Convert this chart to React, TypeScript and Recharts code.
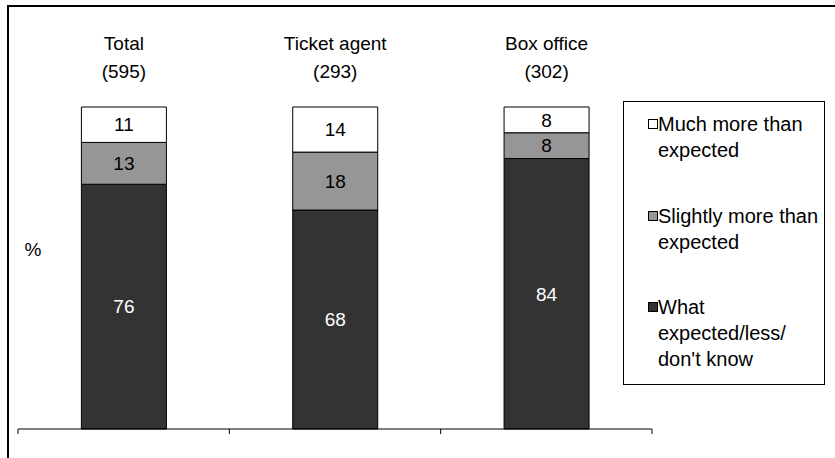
import React from "react";
import {
  BarChart,
  Bar,
  XAxis,
  YAxis,
  Legend,
  LabelList,
} from "recharts";

const CATEGORIES = ["Total", "Ticket agent", "Box office"];
const BASES = [595, 293, 302];
const WHAT_EXPECTED = [76, 68, 84];
const SLIGHTLY_MORE = [13, 18, 8];
const MUCH_MORE = [11, 14, 8];

const SERIES_NAMES = [
  "What expected/less/don't know",
  "Slightly more than expected",
  "Much more than expected",
];
const LEGEND_LINES: Record<string, string[]> = {
  "Much more than expected": ["Much more than", "expected"],
  "Slightly more than expected": ["Slightly more than", "expected"],
  "What expected/less/don't know": ["What", "expected/less/", "don't know"],
};

const COLORS = ["#333333", "#969696", "#FFFFFF"];
const FONT = "'Liberation Sans', Arial, sans-serif";
const FONT_SIZE = 19;

const W = 835;
const H = 458;

const data = CATEGORIES.map((name, i) => ({
  name,
  base: BASES[i],
  what: WHAT_EXPECTED[i],
  slightly: SLIGHTLY_MORE[i],
  much: MUCH_MORE[i],
}));

// tick marks sit between categories, not under them
const BoundaryTick = (props: any) => {
  const { x, y, index, visibleTicksCount, width } = props;
  const count = visibleTicksCount || CATEGORIES.length;
  const band = (width || 634) / count;
  const top = y - 5;
  const left = x - band / 2;
  return (
    <g>
      <line x1={left} x2={left} y1={top} y2={y} stroke="#000" />
      {index === count - 1 && (
        <line x1={x + band / 2} x2={x + band / 2} y1={top} y2={y} stroke="#000" />
      )}
    </g>
  );
};

// category name and base count above each column
const HeaderLabel = (props: any) => {
  const { x, y, width, index } = props;
  const cx = x + width / 2;
  return (
    <g fontFamily={FONT} fontSize={FONT_SIZE} fill="#000" textAnchor="middle">
      <text x={cx} y={y - 57}>
        {CATEGORIES[index]}
      </text>
      <text x={cx} y={y - 29}>
        ({BASES[index]})
      </text>
    </g>
  );
};

const LegendBox = ({ payload }: any) => {
  // top segment first, same as the stacking order seen on the columns
  const items = SERIES_NAMES.map((name) =>
    (payload || []).find((p: any) => p.value === name)
  )
    .filter(Boolean)
    .reverse();
  return (
    <div
      style={{
        width: 202,
        height: 284,
        boxSizing: "border-box",
        border: "1px solid #000",
        background: "#fff",
        display: "flex",
        flexDirection: "column",
        justifyContent: "space-between",
        padding: "9px 0 12px 0",
        fontFamily: FONT,
        fontSize: 20,
        lineHeight: "26px",
        color: "#000",
        textAlign: "left",
      }}
    >
      {items.map((entry: any) => (
        <div key={entry.value} style={{ position: "relative", paddingLeft: 34 }}>
          <span
            style={{
              position: "absolute",
              left: 24,
              top: 8,
              width: 8,
              height: 8,
              border: "1px solid #000",
              background: entry.color,
            }}
          />
          {(LEGEND_LINES[entry.value] || [entry.value]).map((line) => (
            <div key={line}>{line}</div>
          ))}
        </div>
      ))}
    </div>
  );
};

export default function App() {
  return (
    <div
      style={{
        position: "absolute",
        left: 0,
        top: 0,
        width: W,
        height: H,
        background: "#fff",
        overflow: "hidden",
      }}
    >
      <BarChart
        width={W}
        height={H}
        data={data}
        margin={{ top: 107, right: 183, bottom: 0, left: 0 }}
        barCategoryGap="30%"
      >
        <XAxis
          dataKey="name"
          height={29}
          axisLine={{ stroke: "#000" }}
          tickLine={false}
          tickSize={5}
          tickMargin={0}
          tick={<BoundaryTick />}
          interval={0}
        />
        <YAxis
          domain={[0, 100]}
          width={18}
          axisLine={false}
          tickLine={false}
          tick={false}
          label={{
            content: ({ viewBox }: any) => (
              <text
                x={viewBox.x + 33}
                y={256}
                textAnchor="middle"
                fontFamily={FONT}
                fontSize={FONT_SIZE}
                fill="#000"
              >
                %
              </text>
            ),
          }}
        />
        <Legend
          layout="vertical"
          align="center"
          verticalAlign="middle"
          wrapperStyle={{ left: 623, top: 101, width: 202, height: 284 }}
          content={<LegendBox />}
        />
        <Bar
          dataKey="what"
          name={SERIES_NAMES[0]}
          stackId="a"
          fill={COLORS[0]}
          stroke="#000"
          strokeWidth={1}
          isAnimationActive={false}
        >
          <LabelList
            dataKey="what"
            position="center"
            fill="#fff"
            fontFamily={FONT}
            fontSize={FONT_SIZE}
          />
        </Bar>
        <Bar
          dataKey="slightly"
          name={SERIES_NAMES[1]}
          stackId="a"
          fill={COLORS[1]}
          stroke="#000"
          strokeWidth={1}
          isAnimationActive={false}
        >
          <LabelList
            dataKey="slightly"
            position="center"
            fill="#000"
            fontFamily={FONT}
            fontSize={FONT_SIZE}
          />
        </Bar>
        <Bar
          dataKey="much"
          name={SERIES_NAMES[2]}
          stackId="a"
          fill={COLORS[2]}
          stroke="#000"
          strokeWidth={1}
          isAnimationActive={false}
        >
          <LabelList
            dataKey="much"
            position="center"
            fill="#000"
            fontFamily={FONT}
            fontSize={FONT_SIZE}
          />
          <LabelList dataKey="name" content={<HeaderLabel />} />
        </Bar>
      </BarChart>
      {/* outer frame, open on the right and bottom */}
      <div
        style={{
          position: "absolute",
          left: 7,
          top: 5,
          width: W,
          height: H,
          borderLeft: "2px solid #000",
          borderTop: "2px solid #000",
          pointerEvents: "none",
        }}
      />
    </div>
  );
}
